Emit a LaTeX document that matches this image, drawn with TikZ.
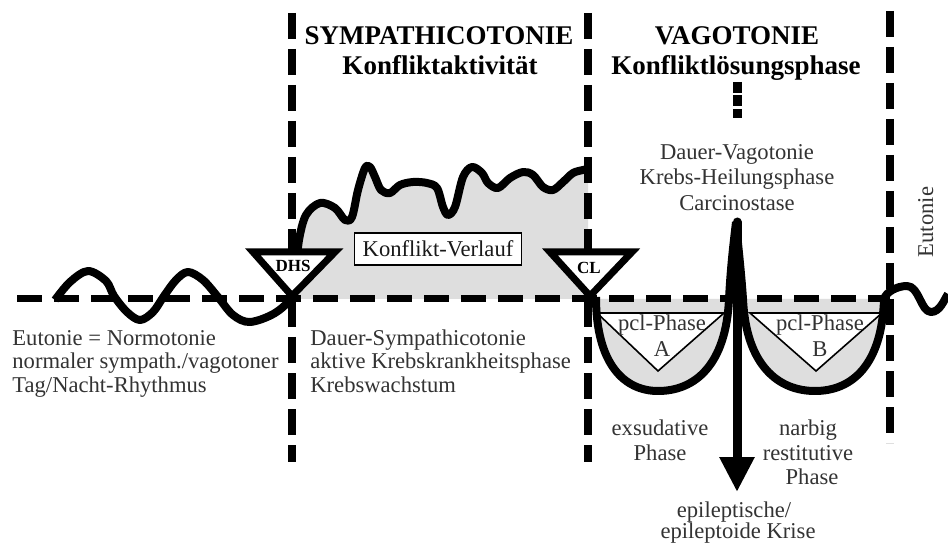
\documentclass[tikz,border=0pt]{standalone}
\usepackage{fontspec}
\setmainfont{Liberation Serif}
\usetikzlibrary{arrows.meta}
\begin{document}
\begin{tikzpicture}[x=0.5pt,y=-0.5pt,
  body/.style={font=\fontsize{11.3}{12.5}\selectfont, text=black!80, inner sep=0pt},
  ttl/.style={font=\fontsize{13.5}{15}\selectfont\bfseries, inner sep=0pt},
  vdash/.style={line width=4pt, dash pattern=on 13pt off 5pt},
  hdash/.style={line width=3.5pt, dash pattern=on 12.5pt off 6pt},
  curve/.style={line width=4pt, line join=round},
  greyfill/.style={fill=black!13},
  marker/.style={draw, line width=3.5pt, fill=white, line join=miter},
  pcltri/.style={draw, line width=0.8pt, fill=white},
  mlabel/.style={font=\fontsize{8.5}{9}\selectfont\bfseries, inner sep=0pt},
]
\useasboundingbox (0,0) rectangle (948,545);
\fill[white] (0,0) rectangle (948,545);

% grey areas
\fill[greyfill] plot[smooth,tension=0.55] coordinates {(292,296) (296,270) (299,240) (306,215) (320,203) (335,208) (345,220) (352,217) (358,190) (365,168) (370,167) (375,177) (381,190) (390,193) (400,185) (413,182) (427,183) (437,188) (443,207) (448,215) (455,207) (463,177) (472,167) (482,173) (488,183) (498,188) (510,178) (523,172) (533,175) (543,187) (553,190) (563,182) (573,173) (583,170) (588,169)} -- (588,299) -- (292,299) -- cycle;
\fill[greyfill] (596,299) .. controls (596,365) and (625,391) .. (658,391) .. controls (695,391) and (726,365) .. (729,299) -- cycle;
\fill[greyfill] (743,299) .. controls (746,365) and (778,391) .. (815,391) .. controls (852,391) and (882,365) .. (884,299) -- cycle;

% pcl triangles
\draw[pcltri] (597,313) -- (724,313) -- (658,371) -- cycle;
\draw[pcltri] (750,313) -- (882,313) -- (816,371) -- cycle;

% coordinates for dashed lines
\coordinate (h1) at (17,299);
\coordinate (h2) at (890,299);
\coordinate (v1a) at (292,13);
\coordinate (v1b) at (292,462);
\coordinate (v2a) at (588,13);
\coordinate (v2b) at (588,462);
\coordinate (v3a) at (890,11);
\coordinate (v3b) at (890,443);
\coordinate (s1) at (737,82);
\coordinate (s2) at (737,118);

\draw[hdash] (h1) -- (h2);
\draw[vdash] (v1a) -- (v1b);
\draw[vdash] (v2a) -- (v2b);
\draw[vdash] (v3a) -- (v3b);
\draw[line width=4.5pt, dash pattern=on 5.5pt off 1.2pt] (s1) -- (s2);

% wave + conflict curve
\draw[curve] plot[smooth,tension=0.55] coordinates {(55,300) (70,282) (88,271) (106,281) (114,296) (127,312) (140,320) (153,312) (164,296) (176,280) (188,272) (203,280) (218,297) (233,315) (250,322) (275,313) (292,296) (296,270) (299,240) (306,215) (320,203) (335,208) (345,220) (352,217) (358,190) (365,168) (370,167) (375,177) (381,190) (390,193) (400,185) (413,182) (427,183) (437,188) (443,207) (448,215) (455,207) (463,177) (472,167) (482,173) (488,183) (498,188) (510,178) (523,172) (533,175) (543,187) (553,190) (563,182) (573,173) (583,170) (588,169)};

% bowls
\draw[curve] (596,297) .. controls (596,365) and (625,391) .. (658,391) .. controls (695,391) and (726,365) .. (729,299) .. controls (731,262) and (734,240) .. (736,222);
\draw[curve] (736,222) .. controls (738,245) and (741,270) .. (743,299) .. controls (746,365) and (778,391) .. (815,391) .. controls (852,391) and (882,365) .. (884,299) .. controls (886,292) and (897,286) .. (907,286) .. controls (919,286) and (921,312) .. (931,312) .. controls (940,312) and (944,300) .. (948,294);

% central arrow
\coordinate (stemtop) at (737,222);
\coordinate (tip) at (737,492);
\fill (731,302) -- (733.5,224) -- (740.5,224) -- (743,302) -- cycle;
\draw[line width=4.5pt, line cap=round, -{Triangle[width=16.5pt,length=17.5pt]}] (stemtop) -- (tip);

% DHS and CL markers
\draw[marker] (253,252) -- (335,252) -- (292,296) -- cycle;
\draw[marker] (550,252) -- (632,252) -- (590,296) -- cycle;
\node[mlabel, anchor=base] (dhs) at (293,272) {DHS};
\node[mlabel, anchor=base] (cl) at (589,274) {CL};

% Konflikt-Verlauf box
\node[body, text=black!90, draw=black, line width=0.8pt, fill=white, minimum width=83.5pt, minimum height=16pt] (kv) at (438,249) {Konflikt-Verlauf};

% titles
\node[ttl, anchor=base] (t1) at (439,45) {SYMPATHICOTONIE};
\node[ttl, anchor=base] (t2) at (440,75) {Konfliktaktivität};
\node[ttl, anchor=base] (t3) at (737,45) {VAGOTONIE};
\node[ttl, anchor=base] (t4) at (736,75) {Konfliktlösungsphase};

% texts
\node[body, anchor=base] (dv1) at (737,160) {Dauer-Vagotonie};
\node[body, anchor=base] (dv2) at (737,185) {Krebs-Heilungsphase};
\node[body, anchor=base] (dv3) at (737,211) {Carcinostase};

\node[body, anchor=base west] (eu1) at (12,345) {Eutonie = Normotonie};
\node[body, anchor=base west] (eu2) at (12,369) {normaler sympath./vagotoner};
\node[body, anchor=base west] (eu3) at (12,393) {Tag/Nacht-Rhythmus};

\node[body, anchor=base west] (ds1) at (310,345) {Dauer-Sympathicotonie};
\node[body, anchor=base west] (ds2) at (310,369) {aktive Krebskrankheitsphase};
\node[body, anchor=base west] (ds3) at (310,393) {Krebswachstum};

\node[body, anchor=base] (pa1) at (662,330) {pcl-Phase};
\node[body, anchor=base] (pa2) at (662,357) {A};
\node[body, anchor=base] (pb1) at (820,330) {pcl-Phase};
\node[body, anchor=base] (pb2) at (820,357) {B};

\node[body, anchor=base] (ex1) at (660,435) {exsudative};
\node[body, anchor=base] (ex2) at (660,460) {Phase};
\node[body, anchor=base] (nr1) at (808,435) {narbig};
\node[body, anchor=base] (nr2) at (808,460) {restitutive};
\node[body, anchor=base] (nr3) at (812,484) {Phase};

\node[body, anchor=base] (ep1) at (734,517) {epileptische/};
\node[body, anchor=base] (ep2) at (738,538) {epileptoide Krise};

\node[body, anchor=base, rotate=90] (eut) at (933,222) {Eutonie};
\end{tikzpicture}
\end{document}
